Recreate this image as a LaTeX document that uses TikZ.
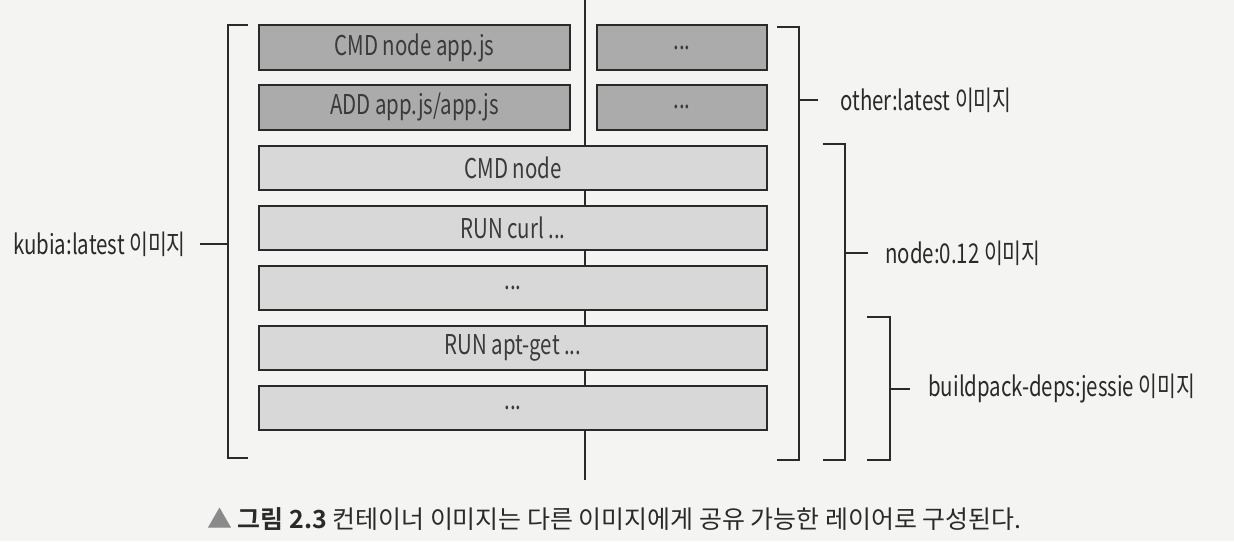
\documentclass[tikz,border=0pt]{standalone}
\usepackage{fontspec}
\setmainfont{Noto Sans CJK KR}[BoldFont={Noto Sans CJK KR Bold}, FakeStretch=0.75]
\newfontfamily\capfont{Noto Sans CJK KR}[BoldFont={Noto Sans CJK KR Bold}]
\usetikzlibrary{positioning}
\definecolor{layerdark}{HTML}{ABABAB}
\definecolor{layerlight}{HTML}{D8D8D8}
\definecolor{inkline}{HTML}{2A2A2A}
\definecolor{inktext}{HTML}{3A3A3A}
\definecolor{paper}{HTML}{F4F4F3}
\definecolor{capgrey}{HTML}{8A8A8A}

\begin{document}
\begin{tikzpicture}[
  layer/.style={draw=inkline, line width=1.1pt, fill=layerlight, minimum height=8.8mm,
                inner sep=0pt, font=\fontsize{15.5}{17}\selectfont, text=inktext},
  toplayer/.style={layer, fill=layerdark, minimum height=9mm},
  brace/.style={draw=inkline, line width=1.1pt},
  imgtag/.style={font=\fontsize{15.5}{17}\selectfont, text=inkline, inner sep=0pt},
]
\fill[paper] (0,0) rectangle (24.68,-10.82);
\useasboundingbox (0,0) rectangle (24.68,-10.82);

% ---------------- shared spine -------------------------------------
\coordinate (spinetop) at (11.70,0);
\coordinate (spineend) at (11.70,-9.60);
\draw[brace] (spinetop) -- (spineend);

% ---------------- layers -------------------------------------------
\node[toplayer, minimum width=62.2mm] (cmdapp) at (8.29,-0.95) {CMD node app.js};
\node[toplayer, minimum width=62.2mm, below=2.6mm of cmdapp] (addapp) {ADD app.js/app.js};
\node[toplayer, minimum width=34mm] (othera) at (13.64,-0.95) {...};
\node[toplayer, minimum width=34mm, below=2.6mm of othera] (otherb) {...};

\node[layer, minimum width=101.6mm, below right=2.8mm and 0mm of addapp.south west] (cmdnode) {CMD node};
\node[layer, minimum width=101.6mm, below=2.8mm of cmdnode] (runcurl) {RUN curl ...};
\node[layer, minimum width=101.6mm, below=2.8mm of runcurl] (midlayer) {...};
\node[layer, minimum width=101.6mm, below=2.8mm of midlayer] (runapt) {RUN apt-get ...};
\node[layer, minimum width=101.6mm, below=2.8mm of runapt] (baselayer) {...};

% ---------------- image brackets -----------------------------------
\draw[brace] (4.96,-0.50) -| (4.56,-9.16) -- (4.96,-9.16);
\draw[brace] (15.54,-0.54) -| (15.98,-9.20) -- (15.54,-9.20);
\draw[brace] (16.46,-2.88) -| (16.90,-9.20) -- (16.46,-9.20);
\draw[brace] (17.34,-6.34) -| (17.80,-9.20) -- (17.34,-9.20);

\coordinate (kubiamid) at (4.56,-4.88);
\coordinate (kubiatick) at (4.00,-4.88);
\coordinate (othermid) at (15.98,-2.00);
\coordinate (othertick) at (16.36,-2.00);
\coordinate (nodemid) at (16.90,-5.06);
\coordinate (nodetick) at (17.36,-5.06);
\coordinate (depsmid) at (17.80,-7.78);
\coordinate (depstick) at (18.20,-7.78);

\node[imgtag, left=2.8mm of kubiatick] (kubialbl) {kubia:latest 이미지};
\node[imgtag, right=4.4mm of othertick] (otherlbl) {other:latest 이미지};
\node[imgtag, right=3.4mm of nodetick] (nodelbl) {node:0.12 이미지};
\node[imgtag, right=3.6mm of depstick] (depslbl) {buildpack-deps:jessie 이미지};

\draw[brace] (kubiatick) -- (kubiamid);
\draw[brace] (othermid) -- (othertick);
\draw[brace] (nodemid) -- (nodetick);
\draw[brace] (depsmid) -- (depstick);

% ---------------- caption ------------------------------------------
\node[font=\capfont\fontsize{14.2}{17}\selectfont, text=inkline, anchor=west, inner sep=0pt] (caption) at (4.14,-10.38)
  {\textcolor{capgrey}{▲} \textbf{그림 2.3} 컨테이너 이미지는 다른 이미지에게 공유 가능한 레이어로 구성된다.};

\end{tikzpicture}
\end{document}
